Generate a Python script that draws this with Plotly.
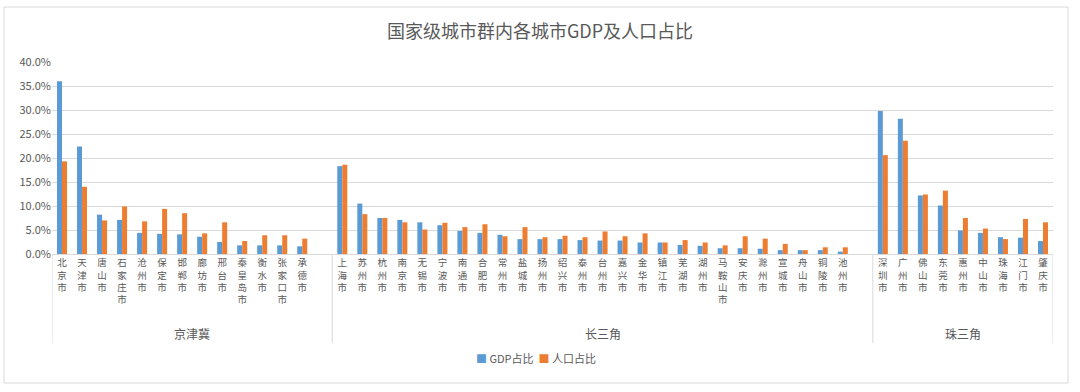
import plotly.graph_objects as go

title_text = "国家级城市群内各城市GDP及人口占比"

groups = ["京津冀", "长三角", "珠三角"]

jjj_cities = ["北京市", "天津市", "唐山市", "石家庄市", "沧州市", "保定市", "邯郸市",
              "廊坊市", "邢台市", "秦皇岛市", "衡水市", "张家口市", "承德市"]
jjj_gdp = [36.0, 22.4, 8.2, 7.1, 4.4, 4.2, 4.1, 3.6, 2.5, 1.8, 1.8, 1.8, 1.6]
jjj_pop = [19.3, 14.0, 7.0, 9.9, 6.8, 9.4, 8.5, 4.3, 6.6, 2.7, 3.9, 3.9, 3.2]

csj_cities = ["上海市", "苏州市", "杭州市", "南京市", "无锡市", "宁波市", "南通市",
              "合肥市", "常州市", "盐城市", "扬州市", "绍兴市", "泰州市", "台州市",
              "嘉兴市", "金华市", "镇江市", "芜湖市", "湖州市", "马鞍山市", "安庆市",
              "滁州市", "宣城市", "舟山市", "铜陵市", "池州市"]
csj_gdp = [18.3, 10.5, 7.5, 7.1, 6.6, 6.0, 4.8, 4.4, 4.0, 3.1, 3.1, 3.1, 2.9, 2.8,
           2.8, 2.4, 2.4, 1.9, 1.7, 1.2, 1.2, 1.1, 0.8, 0.8, 0.8, 0.5]
csj_pop = [18.6, 8.3, 7.5, 6.6, 5.1, 6.5, 5.6, 6.2, 3.7, 5.6, 3.5, 3.8, 3.5, 4.7,
           3.7, 4.3, 2.4, 2.9, 2.4, 1.8, 3.7, 3.2, 2.1, 0.8, 1.4, 1.4]

zsj_cities = ["深圳市", "广州市", "佛山市", "东莞市", "惠州市", "中山市", "珠海市",
              "江门市", "肇庆市"]
zsj_gdp = [29.8, 28.2, 12.2, 10.1, 4.9, 4.4, 3.5, 3.4, 2.7]
zsj_pop = [20.6, 23.6, 12.4, 13.2, 7.5, 5.3, 3.1, 7.3, 6.6]

y_ticks = [0, 5, 10, 15, 20, 25, 30, 35, 40]

series_names = ["GDP占比", "人口占比"]
colors = ["#5B9BD5", "#ED7D31"]

# group data; each of the first two groups is followed by one empty slot
group_data = [
    (jjj_cities, jjj_gdp, jjj_pop, 1),
    (csj_cities, csj_gdp, csj_pop, 1),
    (zsj_cities, zsj_gdp, zsj_pop, 0),
]

xs, labels, gdp_all, pop_all = [], [], [], []
bounds = []
pos = 0
for cities, g, p, blank in group_data:
    start = pos
    for c, gv, pv in zip(cities, g, p):
        xs.append(pos)
        labels.append("<br>".join(list(c)))
        gdp_all.append(gv / 100)
        pop_all.append(pv / 100)
        pos += 1
    pos += blank
    bounds.append((start - 0.5, pos - 0.5))
total_slots = pos

fig = go.Figure()
fig.add_trace(go.Bar(x=xs, y=gdp_all, name=series_names[0], marker_color=colors[0],
                     marker_line_width=0, showlegend=False))
fig.add_trace(go.Bar(x=xs, y=pop_all, name=series_names[1], marker_color=colors[1],
                     marker_line_width=0, showlegend=False))

grey = "#595959"
line_grey = "#D9D9D9"
font_family = "Noto Sans CJK SC, Microsoft YaHei, sans-serif"

PH = 192.0   # plot height in px
PW = 1001.0  # plot width in px

shapes = []
annotations = []
div_bottom = -(343 - 254) / PH
for (a, b), gname in zip(bounds, groups):
    annotations.append(dict(x=(a + b) / 2, y=-(333 - 254) / PH, xref="x", yref="paper",
                            text=gname, showarrow=False,
                            font=dict(size=12, color=grey, family=font_family),
                            xanchor="center", yanchor="middle"))
edges = sorted(set([b[0] for b in bounds] + [b[1] for b in bounds]))
for e in edges:
    shapes.append(dict(type="line", xref="x", yref="paper", x0=e, x1=e,
                       y0=0, y1=div_bottom, line=dict(color=line_grey, width=1)))
# outer chart frame
shapes.append(dict(type="rect", xref="paper", yref="paper",
                   x0=(4 - 52) / PW, x1=(1068 - 52) / PW,
                   y0=-(383 - 254) / PH, y1=(254 - 7) / PH,
                   line=dict(color="#D9D9D9", width=1), layer="below"))

# legend drawn as text with coloured squares
legend_text = ("<span style='color:%s'>■</span> %s  <span style='color:%s'>■</span> %s"
               % (colors[0], series_names[0], colors[1], series_names[1]))
annotations.append(dict(x=(536 - 52) / PW, y=-(358 - 254) / PH, xref="paper", yref="paper",
                        text=legend_text, showarrow=False,
                        font=dict(size=11, color=grey, family=font_family),
                        xanchor="center", yanchor="middle"))

fig.update_layout(
    width=1080, height=392,
    margin=dict(l=52, r=27, t=62, b=138),
    paper_bgcolor="white", plot_bgcolor="white",
    title=dict(text=title_text, x=0.5, xanchor="center", y=(392 - 32) / 392,
               yanchor="middle",
               font=dict(size=18, color=grey, family=font_family)),
    barmode="group", bargap=0.5, bargroupgap=0,
    showlegend=False,
    xaxis=dict(range=[-0.5, total_slots - 0.5], tickmode="array", tickvals=xs,
               ticktext=labels, tickangle=0, showgrid=False, zeroline=False,
               showline=True, linecolor=line_grey, linewidth=1, ticks="",
               tickfont=dict(size=9.5, color=grey, family=font_family)),
    yaxis=dict(range=[0, 0.4], tickmode="array", tickvals=[t / 100 for t in y_ticks],
               tickformat=".1%", showgrid=True, gridcolor=line_grey, gridwidth=1,
               zeroline=False, showline=False, ticks="",
               tickfont=dict(size=11, color=grey, family=font_family)),
    shapes=shapes, annotations=annotations,
)

fig.write_html("out.html", config={"displayModeBar": False},
               post_script="document.body.style.margin='0';document.body.style.padding='0';")
